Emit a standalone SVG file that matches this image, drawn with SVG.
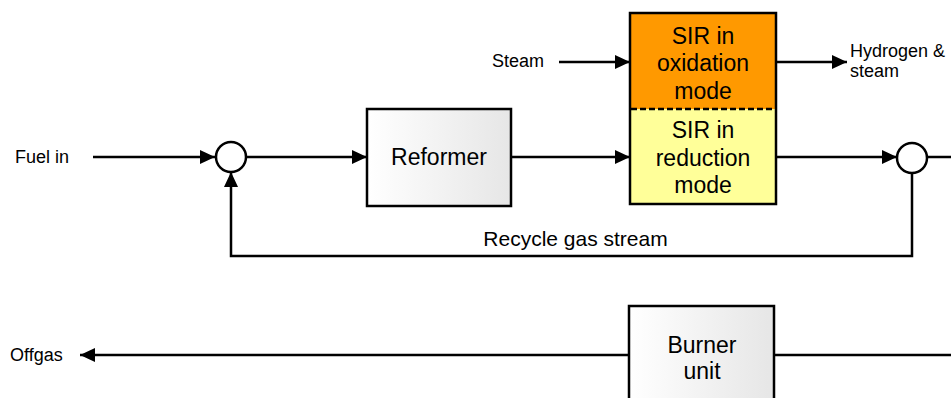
<svg xmlns="http://www.w3.org/2000/svg" width="951" height="398" viewBox="0 0 951 398">
  <defs>
    <linearGradient id="unitFill" x1="0" y1="0" x2="1" y2="0">
      <stop offset="0" stop-color="#ffffff"/>
      <stop offset="1" stop-color="#e6e6e6"/>
    </linearGradient>
    <marker id="arrow" viewBox="0 0 15 14" refX="15" refY="7" markerWidth="15" markerHeight="14" markerUnits="userSpaceOnUse" orient="auto">
      <path d="M0,0 L15,7 L0,14 Z" fill="#000"/>
    </marker>
  </defs>
  <style>
    .box { stroke: #000; stroke-width: 2.5; }
    .unit { fill: url(#unitFill); }
    .junction { fill: #fff; stroke: #000; stroke-width: 2.5; }
    .flow { fill: none; stroke: #000; stroke-width: 2.5; }
    .arrowed { marker-end: url(#arrow); }
    .label { font-family: "Liberation Sans", Arial, sans-serif; font-size: 18px; fill: #000; }
    .title { font-family: "Liberation Sans", Arial, sans-serif; font-size: 23px; fill: #000; text-anchor: middle; }
  </style>

  <!-- connectors -->
  <g id="connectors">
    <line class="flow arrowed" x1="93" y1="157" x2="215" y2="157"/>
    <line class="flow arrowed" x1="246" y1="157" x2="367" y2="157"/>
    <line class="flow arrowed" x1="511" y1="157" x2="630" y2="157"/>
    <line class="flow arrowed" x1="776" y1="157" x2="897" y2="157"/>
    <line class="flow" x1="927" y1="157" x2="951" y2="157"/>
    <line class="flow arrowed" x1="559" y1="62" x2="630" y2="62"/>
    <line class="flow arrowed" x1="776" y1="62" x2="847" y2="62"/>
    <polyline class="flow arrowed" points="912,172 912,256 231,256 231,172"/>
    <line class="flow arrowed" x1="629" y1="355" x2="80" y2="355"/>
    <line class="flow" x1="774" y1="355" x2="951" y2="355"/>
  </g>

  <!-- labels on streams -->
  <g id="fuel-in"><text class="label" x="15" y="163">Fuel in</text></g>
  <g id="steam"><text class="label" x="492" y="67">Steam</text></g>
  <g id="hydrogen-steam">
    <text class="label" x="850" y="57">Hydrogen &amp;</text>
    <text class="label" x="850" y="77">steam</text>
  </g>
  <g id="recycle-label"><text class="label" x="575.5" y="246" style="font-size:21px;text-anchor:middle">Recycle gas stream</text></g>
  <g id="offgas"><text class="label" x="10" y="361">Offgas</text></g>

  <!-- mixing junctions -->
  <g id="mixer-in"><circle class="junction" cx="231" cy="157" r="15"/></g>
  <g id="mixer-out"><circle class="junction" cx="912" cy="158" r="15"/></g>

  <!-- reformer -->
  <g id="reformer">
    <rect class="box unit" x="367" y="109" width="144" height="97"/>
    <text class="title" x="439" y="165">Reformer</text>
  </g>

  <!-- steam iron reactor, split into its two modes -->
  <g id="sir">
    <rect x="630" y="13" width="146" height="96" fill="#ff9900"/>
    <rect x="630" y="109" width="146" height="95" fill="#ffff99"/>
    <rect class="box" x="630" y="13" width="146" height="191" fill="none"/>
    <line x1="631" y1="109" x2="775" y2="109" stroke="#000" stroke-width="2.5" stroke-dasharray="6,3"/>
    <text class="title" x="703" y="44">SIR in</text>
    <text class="title" x="703" y="71">oxidation</text>
    <text class="title" x="703" y="99">mode</text>
    <text class="title" x="703" y="138">SIR in</text>
    <text class="title" x="703" y="166">reduction</text>
    <text class="title" x="703" y="193">mode</text>
  </g>

  <!-- burner -->
  <g id="burner">
    <rect class="box unit" x="629" y="306" width="145" height="100"/>
    <text class="title" x="702" y="353">Burner</text>
    <text class="title" x="702" y="379">unit</text>
  </g>
</svg>
